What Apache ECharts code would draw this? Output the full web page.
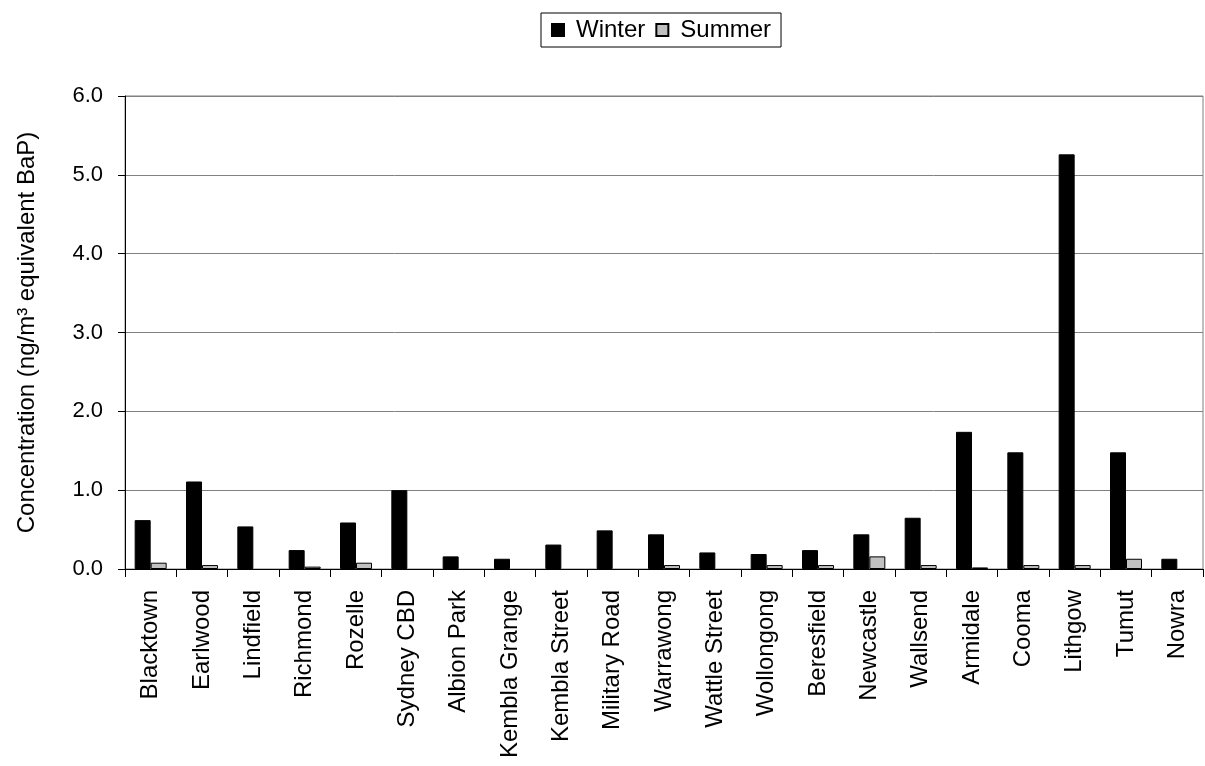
<!DOCTYPE html>
<html>
<head>
<meta charset="utf-8">
<script src="https://cdn.jsdelivr.net/npm/echarts@6/dist/echarts.min.js"></script>
<style>
  html, body { margin: 0; padding: 0; background: #fff; }
  #main { width: 1205px; height: 766px; }
</style>
</head>
<body>
<div id="main"></div>
<script>
// 站点
const sites = ['Blacktown', 'Earlwood', 'Lindfield', 'Richmond', 'Rozelle', 'Sydney CBD',
  'Albion Park', 'Kembla Grange', 'Kembla Street', 'Military Road', 'Warrawong',
  'Wattle Street', 'Wollongong', 'Beresfield', 'Newcastle', 'Wallsend', 'Armidale',
  'Cooma', 'Lithgow', 'Tumut', 'Nowra']
// 冬季 / 夏季 浓度 (null = 无数据)
const winter = [0.62, 1.11, 0.54, 0.24, 0.59, 1.00, 0.16, 0.13, 0.31, 0.49, 0.44,
  0.21, 0.19, 0.24, 0.44, 0.65, 1.74, 1.48, 5.26, 1.48, 0.13]
const summer = [0.08, 0.05, null, 0.03, 0.08, null, null, null, null, null, 0.05,
  null, 0.05, 0.05, 0.16, 0.05, 0.02, 0.05, 0.05, 0.13, null]

const font = 'Liberation Sans, Arial, sans-serif'
const mychart = echarts.init(document.getElementById('main'))

const option = {
  animation: false,
  textStyle: { fontFamily: font },
  legend: {
    left: 541,
    top: 13,
    padding: [5, 10, 5, 10],
    itemGap: 10,
    itemWidth: 12,
    itemHeight: 12,
    borderColor: '#000',
    borderWidth: 1,
    borderRadius: 0,
    textStyle: { fontSize: 24, color: '#000', fontFamily: font, padding: [0, 0, 0, 7] },
    data: [{ name: 'Winter', icon: 'rect' }, { name: 'Summer', icon: 'rect' }]
  },
  grid: {
    left: 125,
    right: 2,
    top: 96,
    bottom: 197,
    show: true,
    borderColor: '#808080',
    borderWidth: 1
  },
  xAxis: {
    type: 'category',
    data: sites,
    axisLine: { lineStyle: { color: '#000', width: 1 } },
    axisTick: { show: true, length: 8, lineStyle: { color: '#000' } },
    axisLabel: {
      rotate: 90,
      interval: 0,
      margin: 21,
      fontSize: 24,
      color: '#000',
      fontFamily: font
    }
  },
  yAxis: {
    type: 'value',
    min: 0,
    max: 6,
    interval: 1,
    name: 'Concentration (ng/m³ equivalent BaP)',
    nameLocation: 'middle',
    nameGap: 86,
    nameTextStyle: {
      fontSize: 24,
      color: '#000',
      fontFamily: font
    },
    axisLine: { show: true, lineStyle: { color: '#000', width: 1 } },
    axisTick: { show: true, length: 7, lineStyle: { color: '#000' } },
    axisLabel: {
      fontSize: 22,
      color: '#000',
      margin: 22,
      fontFamily: font,
      formatter: v => v.toFixed(1)
    },
    splitLine: { show: true, lineStyle: { color: '#808080', width: 1 } }
  },
  series: [
    {
      name: 'Winter',
      type: 'bar',
      barWidth: 16,
      barGap: '0%',
      data: winter,
      itemStyle: { color: '#000', borderColor: '#000', borderWidth: 1 }
    },
    {
      name: 'Summer',
      type: 'bar',
      barWidth: 16,
      data: summer,
      itemStyle: { color: '#c0c0c0', borderColor: '#000', borderWidth: 1 }
    }
  ]
}

mychart.setOption(option)
</script>
</body>
</html>
